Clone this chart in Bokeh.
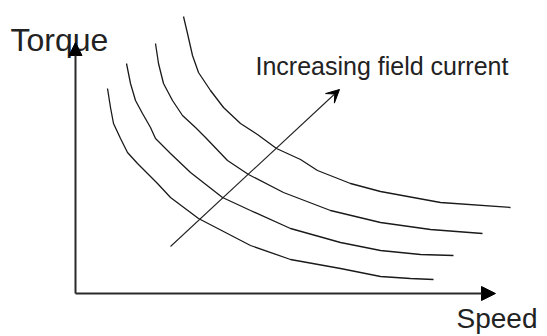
from bokeh.plotting import figure
from bokeh.models import Range1d, Arrow, NormalHead, VeeHead
from bokeh.core.properties import value
from bokeh.embed import file_html
from bokeh.resources import INLINE

# Torque-speed curves (speed, torque) for increasing field current
speed_1 = [32, 35, 38, 45, 52, 62, 82, 95, 123, 175, 215, 265, 305, 335, 358]
torque_1 = [205, 186, 170, 155, 141, 130, 110, 96, 75, 48, 34, 25, 17, 15, 14]

speed_2 = [51, 55, 60, 67, 75, 80, 95, 115, 147, 175, 215, 265, 305, 345, 378]
torque_2 = [230, 210, 193, 180, 166, 155, 140, 121, 96, 83, 65, 51, 43, 39, 38]

speed_3 = [80, 83, 88, 97, 107, 120, 130, 152, 173, 208, 255, 305, 355, 407]
torque_3 = [250, 230, 210, 193, 178, 166, 156, 133, 119, 101, 83, 71, 64, 60]

speed_4 = [108, 112, 117, 123, 135, 148, 165, 182, 201, 225, 242, 275, 305, 365, 435]
torque_4 = [277, 260, 238, 221, 203, 186, 170, 159, 145, 134, 123, 110, 102, 91, 86]

curves = [(speed_1, torque_1), (speed_2, torque_2), (speed_3, torque_3), (speed_4, torque_4)]

axis_labels = ["Torque", "Speed"]
arrow_label = "Increasing field current"

p = figure(width=547, height=336, output_backend="svg", toolbar_location=None,
           x_range=Range1d(-75, 472), y_range=Range1d(-43, 293),
           min_border=0, outline_line_color=None)
p.axis.visible = False
p.grid.visible = False
p.background_fill_color = "white"
p.border_fill_color = "white"

for sx, ty in curves:
    p.line(sx, ty, line_color="#1a1a1a", line_width=1.3)

# axes with arrowheads
p.add_layout(Arrow(x_start=0, y_start=0, x_end=0, y_end=251, line_width=2, line_color="#2a2a2a",
                   end=NormalHead(size=13, fill_color="black", line_color="black", line_width=1)))
p.add_layout(Arrow(x_start=0, y_start=0, x_end=420, y_end=0, line_width=2, line_color="#2a2a2a",
                   end=NormalHead(size=14, fill_color="black", line_color="black", line_width=1)))

# increasing field current arrow
p.add_layout(Arrow(x_start=95, y_start=47, x_end=264, y_end=204, line_width=1.1, line_color="#222222",
                   end=VeeHead(size=13, fill_color="black", line_color="black", line_width=1)))

p.text(x=[-65], y=[254], text=[axis_labels[0]], text_font=value("Liberation Sans"),
       text_font_size="32px", text_color="#222222", text_baseline="alphabetic", text_align="left")
p.text(x=[381], y=[-25], text=[axis_labels[1]], text_font=value("Liberation Sans"),
       text_font_size="28px", text_color="#222222", text_baseline="alphabetic", text_align="left")
p.text(x=[180], y=[228], text=[arrow_label], text_font=value("Liberation Sans"),
       text_font_size="25px", text_color="#222222", text_baseline="alphabetic", text_align="left")

open("out.html", "w").write(file_html(p, INLINE))
